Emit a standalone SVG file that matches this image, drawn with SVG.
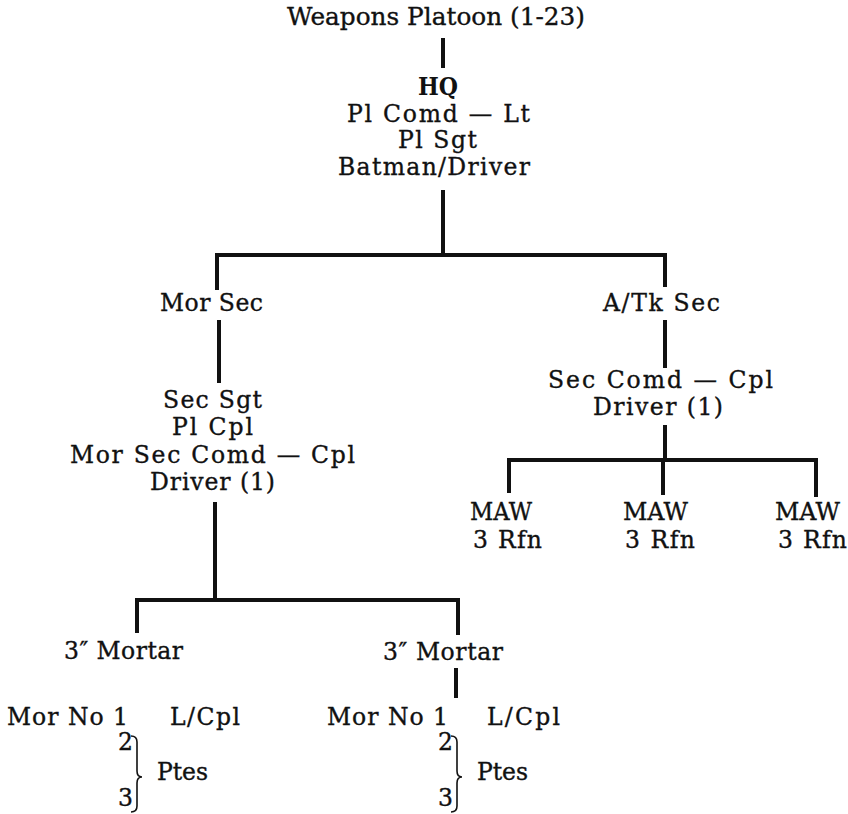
<svg xmlns="http://www.w3.org/2000/svg" width="848" height="814" viewBox="0 0 848 814">
<style>
text{font-family:"DejaVu Serif","Liberation Serif",serif;font-size:23.5px;fill:#111;stroke:#111;stroke-width:0.35}
.t{font-size:25px}
.b{font-weight:bold;stroke-width:0}
.c line{stroke:#111;stroke-width:4;stroke-linecap:butt}
.br{fill:none;stroke:#111;stroke-width:1.6}
</style>
<rect width="848" height="814" fill="#fff"/>
<g id="connectors" class="c">
<line x1="443" y1="38" x2="443" y2="68"/>
<line x1="443" y1="190" x2="443" y2="255"/>
<line x1="215" y1="255" x2="667" y2="255"/>
<line x1="217" y1="253" x2="217" y2="290"/>
<line x1="219" y1="320" x2="219" y2="383"/>
<line x1="215" y1="502" x2="215" y2="600"/>
<line x1="137" y1="600" x2="459" y2="600"/>
<line x1="137" y1="598" x2="137" y2="633"/>
<line x1="458" y1="598" x2="458" y2="635"/>
<line x1="456" y1="668" x2="456" y2="698"/>
<line x1="665" y1="253" x2="665" y2="287"/>
<line x1="665" y1="320" x2="665" y2="368"/>
<line x1="665" y1="425" x2="665" y2="460"/>
<line x1="507" y1="460" x2="817" y2="460"/>
<line x1="509" y1="458" x2="509" y2="493"/>
<line x1="663" y1="458" x2="663" y2="495"/>
<line x1="816" y1="458" x2="816" y2="497"/>
</g>
<g id="title"><text class="t" x="287" y="25" textLength="298" lengthAdjust="spacingAndGlyphs">Weapons Platoon (1-23)</text></g>
<g id="hq">
<text class="b" x="418" y="95" textLength="40" lengthAdjust="spacingAndGlyphs">HQ</text>
<text x="347" y="122" textLength="183" lengthAdjust="spacing">Pl Comd — Lt</text>
<text x="398" y="148" textLength="79" lengthAdjust="spacing">Pl Sgt</text>
<text x="338" y="175" textLength="192" lengthAdjust="spacing">Batman/Driver</text>
</g>
<g id="mor-sec"><text x="160" y="311" textLength="103" lengthAdjust="spacing">Mor Sec</text></g>
<g id="mor-sec-hq">
<text x="163" y="408" textLength="99" lengthAdjust="spacing">Sec Sgt</text>
<text x="172" y="435" textLength="81" lengthAdjust="spacing">Pl Cpl</text>
<text x="70" y="463" textLength="285" lengthAdjust="spacing">Mor Sec Comd — Cpl</text>
<text x="150" y="490" textLength="125" lengthAdjust="spacing">Driver (1)</text>
</g>
<g id="atk-sec"><text x="603" y="311" textLength="117" lengthAdjust="spacing">A/Tk Sec</text></g>
<g id="atk-sec-hq">
<text x="548" y="388" textLength="225" lengthAdjust="spacing">Sec Comd — Cpl</text>
<text x="593" y="415" textLength="130" lengthAdjust="spacing">Driver (1)</text>
</g>
<g id="maw1"><text x="470" y="520" textLength="62" lengthAdjust="spacingAndGlyphs">MAW</text><text x="473" y="548" textLength="69" lengthAdjust="spacing">3 Rfn</text></g>
<g id="maw2"><text x="623" y="520" textLength="65" lengthAdjust="spacingAndGlyphs">MAW</text><text x="625" y="548" textLength="70" lengthAdjust="spacing">3 Rfn</text></g>
<g id="maw3"><text x="775" y="520" textLength="65" lengthAdjust="spacingAndGlyphs">MAW</text><text x="778" y="548" textLength="69" lengthAdjust="spacing">3 Rfn</text></g>
<g id="mortar1">
<text x="64" y="659" textLength="119" lengthAdjust="spacing">3″ Mortar</text>
<text x="7" y="725" textLength="121" lengthAdjust="spacing">Mor No 1</text>
<text x="170" y="725" textLength="70" lengthAdjust="spacing">L/Cpl</text>
<text x="118" y="750">2</text>
<text x="118" y="806">3</text>
<path class="br" d="M131,736 Q137,736 137,742 L137,771 Q137,777 142,777 Q137,777 137,783 L137,806 Q137,812 131,812"/>
<text x="157" y="780" textLength="51" lengthAdjust="spacing">Ptes</text>
</g>
<g id="mortar2">
<text x="383" y="660" textLength="120" lengthAdjust="spacing">3″ Mortar</text>
<text x="327" y="725" textLength="121" lengthAdjust="spacing">Mor No 1</text>
<text x="487" y="725" textLength="73" lengthAdjust="spacing">L/Cpl</text>
<text x="438" y="750">2</text>
<text x="438" y="806">3</text>
<path class="br" d="M451,736 Q457,736 457,742 L457,771 Q457,777 462,777 Q457,777 457,783 L457,806 Q457,812 451,812"/>
<text x="477" y="780" textLength="51" lengthAdjust="spacing">Ptes</text>
</g>
</svg>
